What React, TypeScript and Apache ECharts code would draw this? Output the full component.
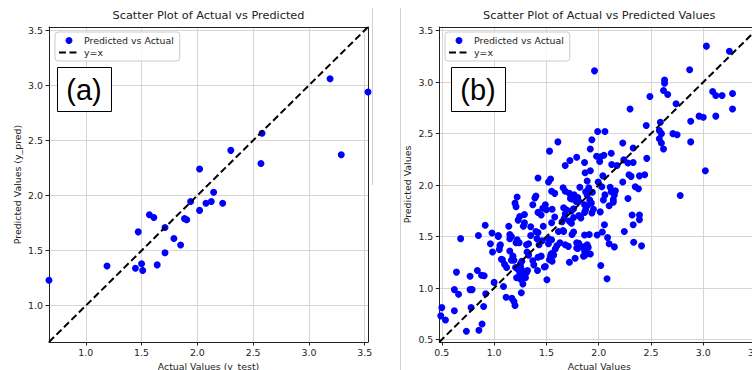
import React, { useEffect, useRef } from "react";
import * as echarts from "echarts";

const titleA = "Scatter Plot of Actual vs Predicted";
const titleB = "Scatter Plot of Actual vs Predicted Values";
const xNameA = "Actual Values (y_test)";
const yNameA = "Predicted Values (y_pred)";
const xNameB = "Actual Values";
const yNameB = "Predicted Values";
const scatterName = "Predicted vs Actual";
const lineName = "y=x";
const panelLabels = ["(a)", "(b)"];

// axis limits (min, max) shared by x and y in each panel
const limitsA = [0.67, 3.53];
const limitsB = [0.476, 3.536];

// panel (a)
const actualA = [0.67, 1.19, 1.445, 1.47, 1.5, 1.51, 1.57, 1.61, 1.64, 1.71, 1.71, 1.79, 1.85, 1.885, 1.905, 1.94, 2.02, 2.02, 2.077, 2.125, 2.146, 2.227, 2.3, 2.58, 2.57, 3.19, 3.29, 3.53];
const predictedA = [1.23, 1.36, 1.34, 1.67, 1.38, 1.32, 1.825, 1.8, 1.37, 1.71, 1.48, 1.61, 1.55, 1.79, 1.78, 1.945, 1.865, 2.24, 1.93, 1.945, 2.03, 1.93, 2.41, 2.565, 2.29, 3.06, 2.37, 2.94];

// panel (b): [actual, predicted]
const pointsBHigh: [number, number][] = [
  [1.96, 3.11], [3.03, 3.35], [3.25, 3.3], [2.87, 3.12], [2.63, 3.02], [2.63, 2.99], [3.09, 2.91], [3.12, 2.87], [3.18, 2.87], [3.28, 2.89],
  [3.28, 2.74], [2.62, 2.92], [2.66, 2.88], [2.49, 2.86], [2.74, 2.79], [2.3, 2.74], [3.12, 2.67], [2.96, 2.67], [3.0, 2.66], [2.88, 2.62],
  [2.455, 2.58], [2.59, 2.61], [2.58, 2.53], [2.6, 2.5], [2.71, 2.5], [2.75, 2.49], [2.88, 2.42], [2.58, 2.45], [2.6, 2.41], [2.62, 2.35],
  [1.99, 2.52], [2.06, 2.52], [1.935, 2.44], [2.23, 2.41], [1.92, 2.35], [1.61, 2.42], [1.53, 2.33], [2.33, 2.36], [1.98, 2.28], [2.02, 2.275],
  [2.05, 2.29], [2.12, 2.31], [2.01, 2.23], [1.79, 2.27], [1.725, 2.24], [1.68, 2.19], [1.865, 2.22], [2.24, 2.245], [2.28, 2.215], [2.33, 2.22],
  [2.46, 2.26], [2.125, 2.2], [2.175, 2.19], [1.92, 2.14], [1.87, 2.12], [2.04, 2.09], [2.29, 2.1], [2.31, 2.085], [2.39, 2.09], [2.44, 2.1],
  [3.02, 2.14], [1.42, 2.07], [1.54, 2.06], [1.52, 2.03], [1.89, 2.04], [1.995, 2.03], [2.23, 2.03], [2.35, 1.985], [2.38, 1.965], [2.28, 1.87],
  [2.78, 1.9],
];
const pointsBMid: [number, number][] = [
  [1.66, 1.975], [1.68, 1.94], [1.55, 1.94], [1.58, 1.92], [1.72, 1.92], [1.765, 1.905], [1.8, 1.88], [1.73, 1.87], [1.745, 1.865], [1.82, 1.98],
  [1.875, 1.935], [1.89, 1.905], [1.905, 1.975], [1.94, 1.93], [2.03, 1.985], [2.06, 1.905], [2.045, 1.855], [2.11, 1.98], [2.12, 1.935], [2.14, 1.86],
  [2.14, 1.835], [2.15, 1.905], [2.16, 1.945], [2.1, 1.8], [1.22, 1.885], [1.4, 1.895], [1.39, 1.875], [1.2, 1.825], [1.21, 1.79], [1.37, 1.81],
  [1.49, 1.81], [1.5, 1.76], [1.42, 1.735], [1.45, 1.71], [1.465, 1.775], [1.29, 1.715], [1.245, 1.695], [1.23, 1.66], [1.28, 1.6], [1.29, 1.635],
  [1.14, 1.6], [0.915, 1.61], [1.35, 1.595], [1.35, 1.51], [1.4, 1.55], [1.42, 1.54], [1.41, 1.48], [1.47, 1.6], [1.55, 1.635], [1.58, 1.69],
  [1.555, 1.765], [1.665, 1.78], [1.69, 1.76], [1.68, 1.72], [1.65, 1.645], [1.67, 1.675], [1.66, 1.56], [1.72, 1.65], [1.74, 1.63], [1.76, 1.685],
  [1.74, 1.75], [1.76, 1.77], [1.785, 1.84], [1.8, 1.865], [1.81, 1.84], [1.865, 1.81], [1.93, 1.825], [1.875, 1.76], [1.89, 1.8], [1.915, 1.855],
  [1.935, 1.73], [1.95, 1.765], [2.015, 1.74], [1.81, 1.705], [1.83, 1.68], [1.865, 1.735], [2.055, 1.615], [2.32, 1.71], [2.39, 1.71], [2.39, 1.665],
  [2.33, 1.615], [2.245, 1.55], [0.68, 1.48], [0.85, 1.51], [0.98, 1.535], [1.04, 1.51], [1.15, 1.52], [1.165, 1.5], [1.52, 1.48], [1.55, 1.47],
  [1.615, 1.55], [1.665, 1.55], [1.76, 1.545], [1.745, 1.52], [1.91, 1.52], [1.865, 1.515], [1.985, 1.515], [2.035, 1.545], [2.085, 1.49],
];
const pointsBLow: [number, number][] = [
  [0.965, 1.43], [0.985, 1.35], [1.055, 1.41], [1.05, 1.375], [1.15, 1.48], [1.08, 1.275], [1.1, 1.23], [1.12, 1.2], [1.15, 1.36], [1.18, 1.31],
  [1.165, 1.27], [1.205, 1.2], [1.23, 1.18], [1.25, 1.23], [1.215, 1.1], [1.245, 1.135], [1.31, 1.15], [1.21, 1.44], [1.22, 1.47], [1.24, 1.44],
  [1.19, 1.27], [1.31, 1.42], [1.33, 1.43], [1.315, 1.35], [1.33, 1.32], [1.37, 1.265], [1.38, 1.225], [1.415, 1.17], [1.43, 1.42], [1.46, 1.46],
  [1.42, 1.3], [1.45, 1.31], [1.48, 1.205], [1.505, 1.08], [1.53, 1.275], [1.54, 1.31], [1.56, 1.34], [1.57, 1.32], [1.585, 1.38], [1.6, 1.41],
  [1.63, 1.44], [1.68, 1.42], [1.71, 1.405], [1.72, 1.25], [1.775, 1.29], [1.79, 1.44], [1.79, 1.39], [1.8, 1.385], [1.81, 1.435], [1.855, 1.4],
  [1.88, 1.375], [1.87, 1.32], [1.89, 1.42], [1.9, 1.395], [1.92, 1.33], [1.855, 1.31], [1.865, 1.36], [2.1, 1.43], [2.15, 1.4], [2.02, 1.22],
  [2.08, 1.09], [2.335, 1.445], [2.41, 1.41], [1.545, 1.33], [1.535, 1.28], [1.555, 1.26], [1.49, 1.21], [1.52, 1.43], [1.265, 1.26], [1.255, 1.2],
  [1.275, 1.155], [1.24, 1.1], [1.26, 1.08], [1.275, 1.04], [1.3, 1.16], [1.32, 1.17], [1.3, 1.1], [0.64, 1.155], [0.77, 1.115], [0.84, 1.17],
  [0.88, 1.125], [0.905, 1.12], [1.0, 1.055], [1.04, 1.5], [1.06, 1.42], [1.07, 1.28],
];
const pointsBBottom: [number, number][] = [
  [0.62, 0.985], [0.66, 0.94], [0.77, 0.985], [0.79, 0.985], [0.92, 0.945], [1.09, 1.015], [1.115, 0.91], [1.17, 0.9], [1.19, 0.87], [1.2, 0.83],
  [1.26, 0.955], [0.5, 0.81], [0.49, 0.73], [0.535, 0.69], [0.62, 0.78], [0.78, 0.81], [0.9, 0.82], [0.885, 0.65], [0.855, 0.59], [0.735, 0.58],
];

const FONT = "DejaVu Sans";
const TXT = "#222222";
const FS = 9.4;

function xAxisMain(grid: number, lim: number[], name: string) {
  return {
    type: "value", gridIndex: grid, min: lim[0], max: lim[1], position: "bottom", splitNumber: 6,
    name, nameLocation: "middle", nameGap: 20,
    nameTextStyle: { fontFamily: FONT, fontSize: FS, color: TXT },
    axisLine: { show: true, onZero: false, lineStyle: { color: "#222", width: 1 } },
    axisTick: { show: true, inside: false, length: 3.5, lineStyle: { color: "#222", width: 1 } },
    axisLabel: { showMinLabel: false, showMaxLabel: false, margin: 6, fontFamily: FONT, fontSize: FS, color: TXT, formatter: (v: number) => v.toFixed(1) },
    splitLine: { show: true, lineStyle: { color: "#d6d6d6", width: 1 } },
  };
}
function yAxisMain(grid: number, lim: number[], name: string) {
  return {
    type: "value", gridIndex: grid, min: lim[0], max: lim[1], position: "left", splitNumber: 6,
    name, nameLocation: "middle", nameGap: 27,
    nameTextStyle: { fontFamily: FONT, fontSize: FS, color: TXT },
    axisLine: { show: true, onZero: false, lineStyle: { color: "#222", width: 1 } },
    axisTick: { show: true, inside: false, length: 3.5, lineStyle: { color: "#222", width: 1 } },
    axisLabel: { showMinLabel: false, showMaxLabel: false, margin: 6, fontFamily: FONT, fontSize: FS, color: TXT, formatter: (v: number) => v.toFixed(1) },
    splitLine: { show: true, lineStyle: { color: "#d6d6d6", width: 1 } },
  };
}
function frameAxis(grid: number, lim: number[], position: string) {
  return {
    type: "value", gridIndex: grid, min: lim[0], max: lim[1], position,
    axisLine: { show: true, onZero: false, lineStyle: { color: "#222", width: 1 } },
    axisTick: { show: false }, axisLabel: { show: false }, splitLine: { show: false },
  };
}
function legendAt(left: number) {
  return {
    left, top: 32, orient: "vertical", selectedMode: false,
    data: [{ name: scatterName }, { name: lineName, itemStyle: { opacity: 0 } }],
    itemWidth: 20, itemHeight: 7, itemGap: 3, padding: [4, 6, 4, 3],
    backgroundColor: "rgba(255,255,255,0.85)", borderColor: "#cccccc", borderWidth: 1, borderRadius: 3,
    textStyle: { fontFamily: FONT, fontSize: FS, color: TXT },
  };
}
function panelLabel(x: number, text: string) {
  return [
    { type: "rect", z: 100, shape: { x: x + 0.5, y: 67.5, width: 54, height: 44 }, style: { fill: "#ffffff", stroke: "#000000", lineWidth: 1 } },
    { type: "text", z: 101, x: x + 27, y: 90, style: { text, fontFamily: "Liberation Sans", fontSize: 29, fill: "#000000", align: "center", verticalAlign: "middle" } },
  ];
}

export default function App() {
  const ref = useRef<HTMLDivElement>(null);
  useEffect(() => {
    const chart = echarts.init(ref.current!, null, { renderer: "svg" });
    const dataA = actualA.map((a, i) => [a, predictedA[i]]);
    const dataB = [...pointsBHigh, ...pointsBMid, ...pointsBLow, ...pointsBBottom];
    const option: any = {
      animation: false,
      backgroundColor: "#ffffff",
      title: [
        { text: titleA, left: 208.5, top: 10, padding: 0, textAlign: "center", textStyle: { fontFamily: FONT, fontSize: 11.3, fontWeight: "normal", color: TXT } },
        { text: titleB, left: 599.2, top: 10, padding: 0, textAlign: "center", textStyle: { fontFamily: FONT, fontSize: 11.3, fontWeight: "normal", color: TXT } },
      ],
      legend: [legendAt(55), legendAt(445)],
      grid: [
        { left: 49, top: 27, width: 319, height: 315, containLabel: false, outerBoundsMode: "none" },
        { left: 439.3, top: 27, width: 320, height: 315, containLabel: false, outerBoundsMode: "none" },
      ],
      xAxis: [xAxisMain(0, limitsA, xNameA), frameAxis(0, limitsA, "top"), xAxisMain(1, limitsB, xNameB), frameAxis(1, limitsB, "top")],
      yAxis: [yAxisMain(0, limitsA, yNameA), frameAxis(0, limitsA, "right"), yAxisMain(1, limitsB, yNameB), frameAxis(1, limitsB, "right")],
      series: [
        { type: "scatter", name: scatterName, xAxisIndex: 0, yAxisIndex: 0, data: dataA, symbolSize: 7, itemStyle: { color: "#0000ff", opacity: 1 } },
        { type: "line", name: lineName, xAxisIndex: 0, yAxisIndex: 0, data: [[limitsA[0], limitsA[0]], [limitsA[1], limitsA[1]]], symbol: "none", lineStyle: { color: "#000000", width: 2, type: [7, 3.5] }, itemStyle: { color: "#000000" } },
        { type: "scatter", name: scatterName, xAxisIndex: 2, yAxisIndex: 2, data: dataB, symbolSize: 7, itemStyle: { color: "#0000ff", opacity: 1 } },
        { type: "line", name: lineName, xAxisIndex: 2, yAxisIndex: 2, data: [[limitsB[0], limitsB[0]], [limitsB[1], limitsB[1]]], symbol: "none", lineStyle: { color: "#000000", width: 2, type: [7, 3.5] }, itemStyle: { color: "#000000" } },
      ],
      graphic: [
        { type: "line", shape: { x1: 372.5, y1: 8, x2: 372.5, y2: 185 }, style: { stroke: "#d0d0d0", lineWidth: 1 } },
        { type: "line", shape: { x1: 400.5, y1: 8, x2: 400.5, y2: 370 }, style: { stroke: "#d0d0d0", lineWidth: 1 } },
        ...panelLabel(57, panelLabels[0]),
        ...panelLabel(451, panelLabels[1]),
      ],
    };
    chart.setOption(option);
    return () => chart.dispose();
  }, []);
  return <div ref={ref} style={{ position: "absolute", left: 0, top: 0, width: 752, height: 370, background: "#ffffff" }} />;
}
